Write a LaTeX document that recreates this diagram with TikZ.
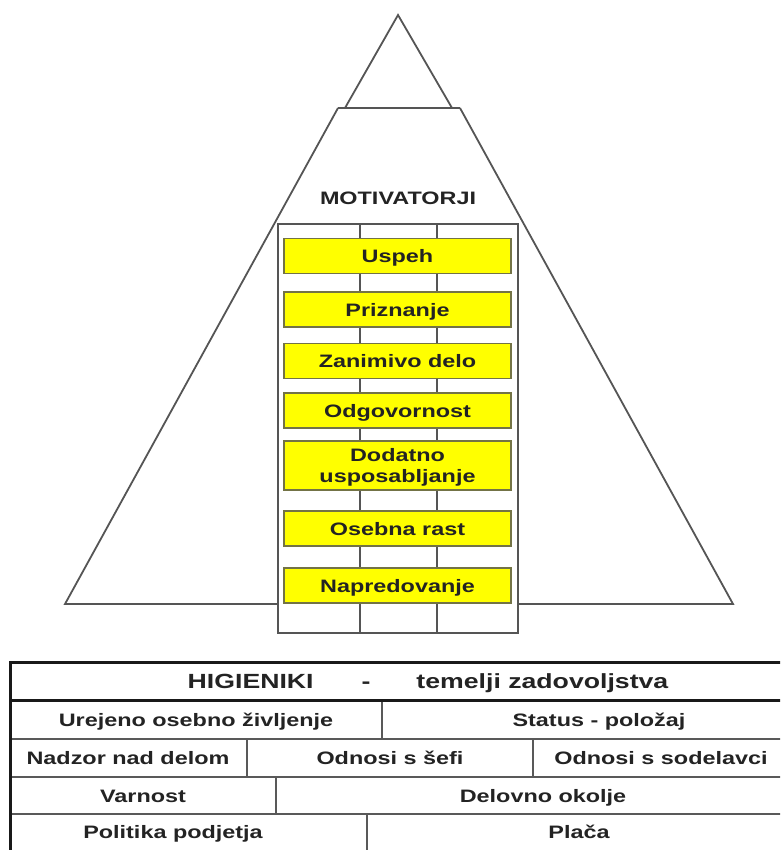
\documentclass[tikz,border=0pt]{standalone}
\usepackage{fontspec}
\setmainfont{Liberation Sans}[FakeStretch=1.3]
\usepackage{tikz}
\usetikzlibrary{positioning}

\definecolor{pyline}{RGB}{85,85,85}
\definecolor{boxline}{RGB}{115,115,70}
\definecolor{motivfill}{RGB}{255,255,0}
\definecolor{txtdark}{RGB}{35,35,35}

\begin{document}
\begin{tikzpicture}[x=1pt, y=-1pt, font=\bfseries\fontsize{18}{21}\selectfont,
    pyr/.style={draw=pyline, line width=1.8pt},
    motiv/.style={draw=boxline, line width=1.3pt, fill=motivfill, text=txtdark,
      minimum width=227pt, minimum height=35pt, inner sep=0pt, align=center,
      text height=13pt, text depth=0pt},
    cell/.style={text=txtdark, inner sep=0pt, text height=13pt, text depth=0pt},
    rowline/.style={draw=black!65, line width=1.4pt},
    frame/.style={draw=black!90, line width=3pt}]
  \clip (0,0) rectangle (780,850);
  \fill[white] (0,0) rectangle (780,850);
  % ------------------------------------------------------------------ the pyramid
  \draw[pyr] (345,108) -- (398,15) -- (452,108);
  \draw[pyr] (338,108) -- (460,108);
  \draw[pyr] (338,108) -- (65,604) -- (278,604);
  \draw[pyr] (460,108) -- (733,604) -- (518,604);
  \node[cell] (motivatorji) at (398,198) {MOTIVATORJI};
  % ------------------------------------------------------------------ the column, 3 lanes
  \draw[pyr] (278,224) rectangle (518,633);
  \draw[pyr] (360,224) -- (360,633);
  \draw[pyr] (437,224) -- (437,633);
  % ------------------------------------------------------------------ the motivators
  \node[motiv] (uspeh)     at (397.5,256)   {Uspeh};
  \node[motiv] (priznanje) at (397.5,309.5) {Priznanje};
  \node[motiv] (delo)      at (397.5,361)   {Zanimivo delo};
  \node[motiv] (odgov)     at (397.5,410.5) {Odgovornost};
  \node[motiv, minimum height=49pt, text height=34pt] (dodatno) at (397.5,465.5)
    {Dodatno\\usposabljanje};
  \node[motiv] (rast)      at (397.5,528.5) {Osebna rast};
  \node[motiv] (napred)    at (397.5,585.5) {Napredovanje};
  % ------------------------------------------------------------------ the hygiene table
  \draw[rowline] (10,739) -- (790,739);
  \draw[rowline] (10,777) -- (790,777);
  \draw[rowline] (10,814) -- (790,814);
  \draw[rowline] (382,700) -- (382,739);
  \draw[rowline] (247,739) -- (247,777);
  \draw[rowline] (533,739) -- (533,777);
  \draw[rowline] (276,777) -- (276,814);
  \draw[rowline] (367,814) -- (367,860);
  \draw[frame] (10,860) -- (10,662) -- (790,662);
  \draw[frame] (10,700) -- (790,700);
  \node[cell, font=\bfseries\fontsize{20.5}{24}\selectfont, text height=14.7pt]
    (higieniki) at (428,681)
    {HIGIENIKI\hspace{48pt}-\hspace{46pt}temelji zadovoljstva};
  \node[cell] (urejeno)   at (196,720) {Urejeno osebno življenje};
  \node[cell] (status)    at (599,720) {Status - položaj};
  \node[cell] (nadzor)    at (128,758) {Nadzor nad delom};
  \node[cell] (sefi)      at (390,758) {Odnosi s šefi};
  \node[cell] (sodelavci) at (661,758) {Odnosi s sodelavci};
  \node[cell] (varnost)   at (143,796) {Varnost};
  \node[cell] (okolje)    at (543,796) {Delovno okolje};
  \node[cell] (politika)  at (173,832) {Politika podjetja};
  \node[cell] (placa)     at (579,832) {Plača};
\end{tikzpicture}
\end{document}
